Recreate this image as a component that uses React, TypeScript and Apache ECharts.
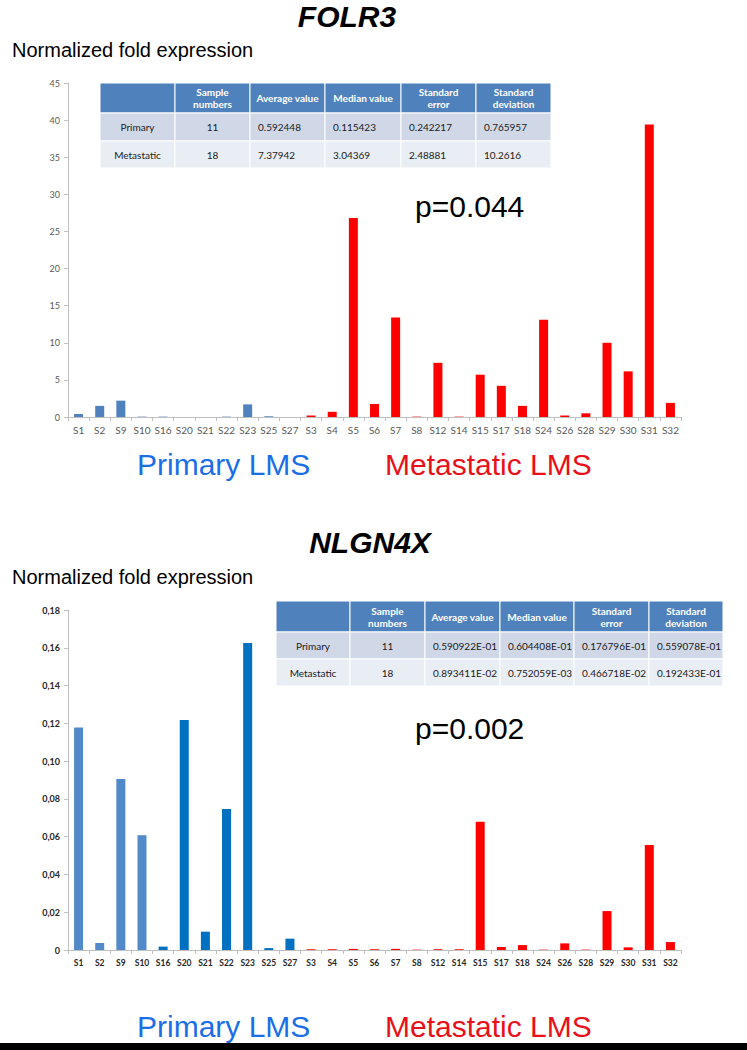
import React, { useEffect, useRef } from "react";
import * as echarts from "echarts";

const CATEGORIES = ["S1","S2","S9","S10","S16","S20","S21","S22","S23","S25","S27","S3","S4","S5","S6","S7","S8","S12","S14","S15","S17","S18","S24","S26","S28","S29","S30","S31","S32"];
const PRIMARY_COUNT = 11;
const FOLR3_VALUES = [0.4,1.5,2.2,0.05,0.05,0,0,0.05,1.7,0.1,0,0.2,0.7,26.8,1.75,13.4,0.05,7.3,0.05,5.7,4.2,1.5,13.1,0.2,0.5,10.0,6.15,39.4,1.9];
const NLGN4X_VALUES = [0.1178,0.0037,0.0905,0.0608,0.0018,0.1218,0.0097,0.0746,0.1625,0.001,0.006,0.0004,0.0004,0.0006,0.0004,0.0006,0.0002,0.0004,0.0004,0.0679,0.0016,0.0026,0.0002,0.0035,0.0002,0.0206,0.0014,0.0556,0.0042];
const NLGN4X_LIGHT_SAMPLES = ["S1","S2","S9","S10"];
const FOLR3_TICKS = { min: 0, max: 45, interval: 5 };
const NLGN4X_TICKS = { min: 0, max: 0.18, interval: 0.02 };

const TABLE_HEADER = ["", "Sample\nnumbers", "Average value", "Median value", "Standard\nerror", "Standard\ndeviation"];
const FOLR3_ROWS = [
  ["Primary", "11", "0.592448", "0.115423", "0.242217", "0.765957"],
  ["Metastatic", "18", "7.37942", "3.04369", "2.48881", "10.2616"],
];
const NLGN4X_ROWS = [
  ["Primary", "11", "0.590922E-01", "0.604408E-01", "0.176796E-01", "0.559078E-01"],
  ["Metastatic", "18", "0.893411E-02", "0.752059E-03", "0.466718E-02", "0.192433E-01"],
];

const BLUE = "#4f81bd";
const DEEP_BLUE = "#0070c0";
const RED = "#ff0000";
const AXIS_GREY = "#bfbfbf";
const SANS = "'Liberation Sans', Arial, sans-serif";
const CAL = "Lato, 'Open Sans', sans-serif";

function buildTable(xs: number[], ys: number[], header: string[], rows: string[][]) {
  const els: any[] = [];
  const fills = ["#4f81bd", "#d0d8e8", "#e9edf4"];
  const all = [header, ...rows];
  for (let r = 0; r < all.length; r++) {
    for (let c = 0; c < xs.length - 1; c++) {
      const x0 = xs[c], x1 = xs[c + 1], y0 = ys[r], y1 = ys[r + 1];
      els.push({
        type: "rect",
        shape: { x: x0, y: y0, width: x1 - x0, height: y1 - y0 },
        style: { fill: fills[r], stroke: "#ffffff", lineWidth: 1 },
        silent: true,
      });
      const txt = all[r][c];
      if (!txt) continue;
      const isHeader = r === 0;
      const centered = isHeader || c < 2;
      els.push({
        type: "text",
        x: centered ? (x0 + x1) / 2 : x0 + 8,
        y: (y0 + y1) / 2,
        style: {
          text: txt,
          fill: isHeader ? "#ffffff" : "#1a1a1a",
          font: `${isHeader ? "bold " : ""}10px ${CAL}`,
          align: centered ? "center" : "left",
          verticalAlign: "middle",
          lineHeight: 12,
        },
        silent: true,
      });
    }
  }
  return els;
}

function textEl(text: string, x: number, y: number, font: string, fill: string, align = "left") {
  return { type: "text", x, y, style: { text, font, fill, align, verticalAlign: "middle" }, silent: true };
}

export default function App() {
  const ref = useRef<HTMLDivElement>(null);
  useEffect(() => {
    if (!ref.current) return;
    const chart = echarts.init(ref.current, null, { renderer: "svg" });
    const colorFor = (i: number, chartIdx: number) => {
      if (i >= PRIMARY_COUNT) return RED;
      if (chartIdx === 0) return BLUE;
      return NLGN4X_LIGHT_SAMPLES.includes(CATEGORIES[i]) ? "#5289c9" : DEEP_BLUE;
    };
    const xAxisBase = (gridIndex: number, bold: boolean) => ({
      type: "category",
      gridIndex,
      data: CATEGORIES,
      axisLine: { lineStyle: { color: AXIS_GREY, width: 1 } },
      axisTick: { show: true, length: 4, lineStyle: { color: AXIS_GREY } },
      axisLabel: {
        interval: 0,
        color: bold ? "#262626" : "#595959",
        fontFamily: CAL,
        fontSize: bold ? 8.5 : 10,
        fontWeight: bold ? "bold" : "normal",
        margin: 8,
      },
    });
    const option: any = {
      animation: false,
      backgroundColor: "#ffffff",
      grid: [
        { left: 68, right: 66, top: 83, height: 334 },
        { left: 68, right: 66, top: 610, height: 340 },
      ],
      xAxis: [xAxisBase(0, false), xAxisBase(1, true)],
      yAxis: [
        {
          type: "value",
          gridIndex: 0,
          ...FOLR3_TICKS,
          splitLine: { show: false },
          axisLine: { show: true, lineStyle: { color: AXIS_GREY } },
          axisTick: { show: true, length: 4, lineStyle: { color: AXIS_GREY } },
          axisLabel: { color: "#595959", fontFamily: CAL, fontSize: 9, margin: 8 },
        },
        {
          type: "value",
          gridIndex: 1,
          ...NLGN4X_TICKS,
          splitLine: { show: false },
          axisLine: { show: true, lineStyle: { color: AXIS_GREY } },
          axisTick: { show: true, length: 4, lineStyle: { color: AXIS_GREY } },
          axisLabel: {
            color: "#262626",
            fontFamily: CAL,
            fontSize: 9,
            fontWeight: "bold",
            margin: 8,
            formatter: (v: number) => (v === 0 ? "0" : (Math.round(v * 100) / 100).toFixed(2).replace(".", ",")),
          },
        },
      ],
      series: [
        {
          type: "bar",
          xAxisIndex: 0,
          yAxisIndex: 0,
          barWidth: 9,
          data: FOLR3_VALUES.map((v, i) => ({ value: v, itemStyle: { color: colorFor(i, 0) } })),
        },
        {
          type: "bar",
          xAxisIndex: 1,
          yAxisIndex: 1,
          barWidth: 9,
          data: NLGN4X_VALUES.map((v, i) => ({ value: v, itemStyle: { color: colorFor(i, 1) } })),
        },
      ],
      graphic: [
        textEl("FOLR3", 347, 16, `italic bold 30px ${SANS}`, "#000000", "center"),
        textEl("Normalized fold expression", 12, 50, `20px ${SANS}`, "#000000"),
        ...buildTable([100, 175, 250, 325, 401, 476, 551], [83, 113, 141, 168], TABLE_HEADER, FOLR3_ROWS),
        textEl("p=0.044", 415, 206, `30px ${SANS}`, "#000000"),
        textEl("Primary LMS", 137, 464, `30px ${SANS}`, "#1a6ee6"),
        textEl("Metastatic LMS", 385, 464, `30px ${SANS}`, "#e8101a"),
        textEl("NLGN4X", 370, 542, `italic bold 30px ${SANS}`, "#000000", "center"),
        textEl("Normalized fold expression", 12, 577, `20px ${SANS}`, "#000000"),
        ...buildTable([276, 350, 425, 500, 574, 649, 723], [601, 632, 659, 686], TABLE_HEADER, NLGN4X_ROWS),
        textEl("p=0.002", 415, 728, `30px ${SANS}`, "#000000"),
        textEl("Primary LMS", 137, 1026, `30px ${SANS}`, "#1a6ee6"),
        textEl("Metastatic LMS", 385, 1026, `30px ${SANS}`, "#e8101a"),
        { type: "rect", shape: { x: 0, y: 1043, width: 747, height: 7 }, style: { fill: "#000000" }, silent: true },
      ],
    };
    chart.setOption(option);
    return () => chart.dispose();
  }, []);
  return (
    <div
      ref={ref}
      style={{ position: "absolute", left: 0, top: 0, width: 747, height: 1050, background: "#ffffff" }}
    />
  );
}
